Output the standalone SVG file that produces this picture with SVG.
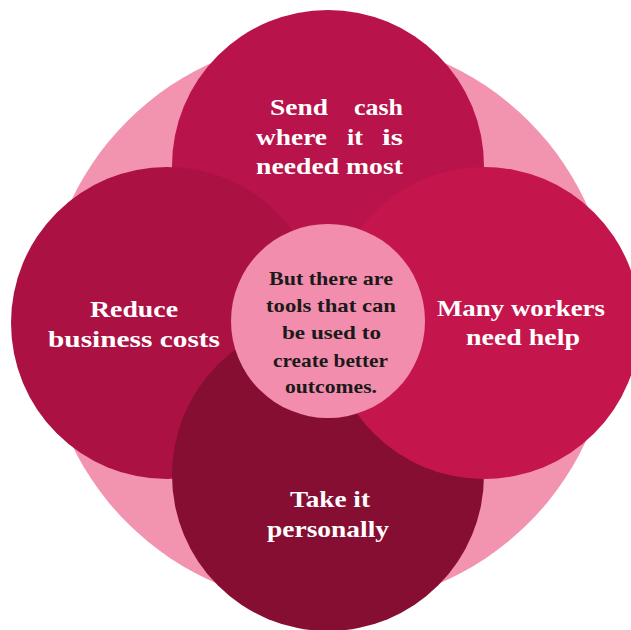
<svg xmlns="http://www.w3.org/2000/svg" width="631" height="630" viewBox="0 0 631 630">
<style>
.lbl{font-family:"Liberation Serif","Times New Roman",serif;font-weight:bold;font-size:23px;fill:#ffffff}
.ctr{font-family:"Liberation Serif","Times New Roman",serif;font-weight:bold;font-size:19.5px;fill:#1a1a1a}
</style>
<rect width="631" height="630" fill="#ffffff"/>
<g id="background"><circle cx="328" cy="322" r="284" fill="#F293B0"/></g>
<g id="node-top">
<circle cx="328" cy="166" r="156" fill="#B8134A"/>
<text class="lbl" x="270" y="115" textLength="58" lengthAdjust="spacingAndGlyphs">Send</text>
<text class="lbl" x="354" y="115" textLength="49" lengthAdjust="spacingAndGlyphs">cash</text>
<text class="lbl" x="256" y="145" textLength="71" lengthAdjust="spacingAndGlyphs">where</text>
<text class="lbl" x="347" y="145" textLength="16" lengthAdjust="spacingAndGlyphs">it</text>
<text class="lbl" x="382" y="145" textLength="21" lengthAdjust="spacingAndGlyphs">is</text>
<text class="lbl" x="256" y="174" textLength="147" lengthAdjust="spacingAndGlyphs">needed most</text>
</g>
<g id="node-left">
<circle cx="167" cy="323" r="156" fill="#AB1243"/>
<text class="lbl" x="90" y="317" textLength="88" lengthAdjust="spacingAndGlyphs">Reduce</text>
<text class="lbl" x="48" y="347" textLength="172" lengthAdjust="spacingAndGlyphs">business costs</text>
</g>
<g id="node-bottom">
<circle cx="328" cy="475" r="156" fill="#870E33"/>
<text class="lbl" x="290" y="507" textLength="80" lengthAdjust="spacingAndGlyphs">Take it</text>
<text class="lbl" x="267" y="537" textLength="122" lengthAdjust="spacingAndGlyphs">personally</text>
</g>
<g id="node-right">
<circle cx="484" cy="323" r="156" fill="#C5154D"/>
<text class="lbl" x="437" y="316" textLength="168" lengthAdjust="spacingAndGlyphs">Many workers</text>
<text class="lbl" x="466" y="345" textLength="114" lengthAdjust="spacingAndGlyphs">need help</text>
</g>
<g id="node-center">
<circle cx="328" cy="321" r="97" fill="#F38DAD"/>
<text class="ctr" x="269" y="285" textLength="124" lengthAdjust="spacingAndGlyphs">But there are</text>
<text class="ctr" x="266" y="312" textLength="130" lengthAdjust="spacingAndGlyphs">tools that can</text>
<text class="ctr" x="282" y="339" textLength="99" lengthAdjust="spacingAndGlyphs">be used to</text>
<text class="ctr" x="273" y="366.5" textLength="115" lengthAdjust="spacingAndGlyphs">create better</text>
<text class="ctr" x="285" y="393" textLength="92" lengthAdjust="spacingAndGlyphs">outcomes.</text>
</g>
<g id="connectors"/>
</svg>
